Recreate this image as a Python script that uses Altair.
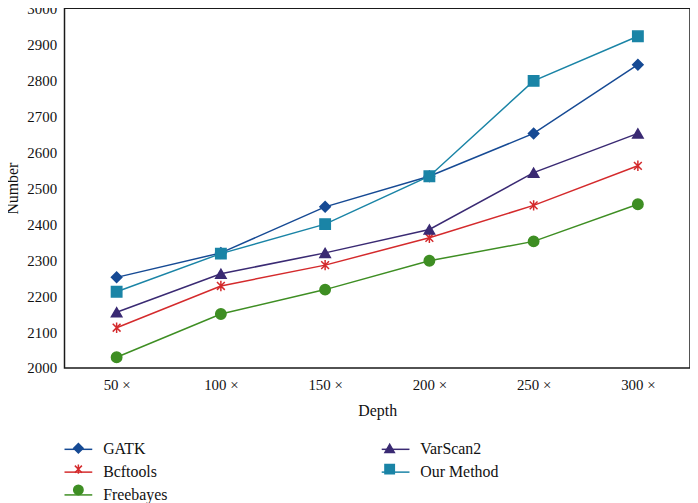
import altair as alt
import pandas as pd

depths = ["50 ×", "100 ×", "150 ×", "200 ×", "250 ×", "300 ×"]
gatk = [2252, 2320, 2448, 2533, 2652, 2843]
bcftools = [2112, 2228, 2286, 2362, 2452, 2562]
freebayes = [2030, 2150, 2218, 2298, 2352, 2455]
varscan2 = [2155, 2262, 2320, 2385, 2543, 2652]
our_method = [2212, 2318, 2400, 2533, 2798, 2922]

methods = ["GATK", "Bcftools", "Freebayes", "VarScan2", "Our Method"]
series = [gatk, bcftools, freebayes, varscan2, our_method]
colors = ["#164a94", "#d42a2c", "#3e8e23", "#3a2a73", "#1a84a6"]
asterisk = "M-0.75,-0.75L0.75,0.75M-0.75,0.75L0.75,-0.75M0,-1L0,1"
shapes = ["diamond", asterisk, "circle", "triangle-up", "square"]

rows = []
for m, vals in zip(methods, series):
    for d, v in zip(depths, vals):
        rows.append({"Depth": d, "Number": v, "Method": m, "Marker": m})
df = pd.DataFrame(rows)

FONT = "Liberation Serif"

x_enc = alt.X("Depth:N", sort=depths,
              scale=alt.Scale(type="point", padding=0.5),
              axis=alt.Axis(title="Depth", labelAngle=0, ticks=False, tickSize=0,
                            domain=False, labelPadding=10, titlePadding=10,
                            labelFontSize=15, titleFontSize=16))
y_enc = alt.Y("Number:Q",
              scale=alt.Scale(domain=[2000, 3000], nice=False, zero=False),
              axis=alt.Axis(title="Number", values=list(range(2000, 3001, 100)),
                            format="d", ticks=False, tickSize=0, domain=False, grid=False,
                            labelPadding=8, titlePadding=6,
                            labelFontSize=15, titleFontSize=16))

lines = alt.Chart(df).mark_line(strokeWidth=1.5).encode(
    x=x_enc, y=y_enc,
    color=alt.Color("Method:N", scale=alt.Scale(domain=methods, range=colors),
                    legend=alt.Legend(title=None, orient="none", legendX=-1, legendY=430,
                                      columns=2, symbolType="stroke", symbolSize=784,
                                      symbolStrokeWidth=1.5, labelOffset=10,
                                      columnPadding=213, rowPadding=0,
                                      labelFontSize=16, padding=0)),
    detail="Method:N",
)

points = alt.Chart(df).mark_point(filled=True, size=110, strokeWidth=1.5, opacity=1).encode(
    x=x_enc, y=y_enc,
    shape=alt.Shape("Marker:N", scale=alt.Scale(domain=methods, range=shapes),
                    legend=alt.Legend(title=None, orient="none", legendX=6, legendY=436,
                                      columns=2, symbolSize=90, symbolStrokeWidth=1.5,
                                      labelExpr="''", labelOffset=0,
                                      columnPadding=298, rowPadding=5,
                                      labelFontSize=16, padding=0)),
    fill=alt.Fill("Marker:N", scale=alt.Scale(domain=methods, range=colors)),
    stroke=alt.Stroke("Marker:N", scale=alt.Scale(domain=methods, range=colors)),
)

chart = alt.layer(lines, points).resolve_scale(color="independent").properties(
    width=631, height=363,
    autosize=alt.AutoSizeParams(type="none"),
    padding={"left": 57, "top": -2, "right": 0, "bottom": 140},
).configure(font=FONT).configure_view(
    stroke="#1a1a1a", strokeWidth=1.5
).configure_axis(
    labelFont=FONT, titleFont=FONT, labelColor="#111", titleColor="#111",
    titleFontWeight="normal"
).configure_legend(
    labelFont=FONT, labelColor="#111"
)

chart.save("out.html", embed_options={"renderer": "svg", "actions": False})
